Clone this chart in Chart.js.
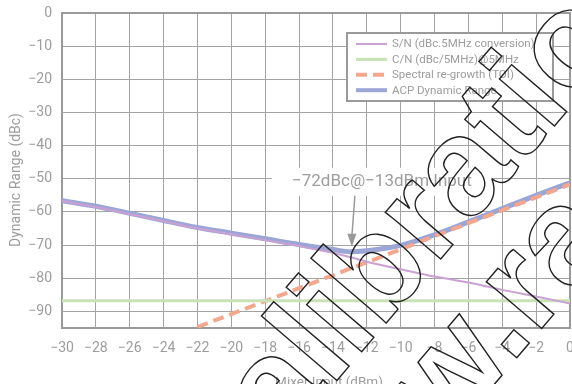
<!DOCTYPE html>
<html>
<head>
<meta charset="utf-8">
<script src="https://cdn.jsdelivr.net/npm/chart.js@4.4.0/dist/chart.umd.min.js"></script>
<style>
  html, body { margin: 0; padding: 0; background: #fff; overflow: hidden; }
  #wrap { width: 572px; height: 384px; overflow: hidden; }
</style>
</head>
<body>
<div id="wrap"><canvas id="mixer-canvas" width="572" height="392"></canvas></div>
<script>
// mixer input sweep (dBm) and the curves read against it (dBc)
var mixerInput = [-30, -28, -26, -24, -22, -20, -18, -16, -14, -13, -12, -10, -8, -6, -4, -2, 0];
var snConversion = [-56.7, -58.5, -60.6, -62.8, -64.9, -66.7, -68.5, -70.3, -72.3, -73.6, -75.0, -77.3, -79.5, -81.3, -83.5, -85.5, -87.6];
var cnAt5MHz = [-86.8, -86.8, -86.8, -86.8, -86.8, -86.8, -86.8, -86.8, -86.8, -86.8, -86.8, -86.8, -86.8, -86.8, -86.8, -86.8, -86.8];
var spectralRegrowth = [null, null, null, null, -94.7, -90.8, -86.9, -83.0, -79.1, -77.1, -75.2, -71.3, -67.3, -63.4, -59.5, -55.6, -51.7];
var acpDynamicRange = [-56.6, -58.3, -60.4, -62.6, -64.7, -66.4, -68.1, -69.8, -71.3, -72.0, -71.7, -70.1, -66.9, -63.0, -59.0, -55.0, -51.2];

var seriesNames = ['S/N (dBc.5MHz conversion)', 'C/N (dBc/5MHz)@5MHz', 'Spectral re-growth (TOI)', 'ACP Dynamic Range'];

var xTickValues = [-30, -28, -26, -24, -22, -20, -18, -16, -14, -12, -10, -8, -6, -4, -2, 0];
var yGridValues = [0, -5, -10, -15, -20, -25, -30, -35, -40, -45, -50, -55, -60, -65, -70, -75, -80, -85, -90, -95];
var yLabelValues = [0, -10, -20, -30, -40, -50, -60, -70, -80, -90];

var xTitle = 'Mixer Input (dBm)';
var yTitle = 'Dynamic Range (dBc)';
var stampLines = ['Calibration', 'www.ra'];

// the marked point on the ACP curve
var markInput = -13;
var markLevel = -72;
var markText = '\u221272dBc@\u221213dBm Input';

var textGrey = '#9d9d9d';
var gridGrey = '#a3a3a3';
var fontName = 'Roboto, "Liberation Sans", sans-serif';

function minusSign(v) {
  return v < 0 ? '\u2212' + Math.abs(v) : String(v);
}

function toPoints(values) {
  return mixerInput.map(function (x, i) {
    return { x: x, y: values[i] };
  });
}

// frame, annotation, legend, axis titles and the stamp are drawn by hand
var decorations = {
  id: 'decorations',
  beforeDatasetsDraw: function (chart) {
    var a = chart.chartArea;
    var ctx = chart.ctx;
    ctx.save();
    ctx.strokeStyle = '#9a9a9a';
    ctx.lineWidth = 2;
    ctx.strokeRect(a.left, a.top, a.right - a.left, a.bottom - a.top);
    ctx.restore();
  },
  afterDatasetsDraw: function (chart) {
    var ctx = chart.ctx;
    var xs = chart.scales.x;
    var ys = chart.scales.y;
    var px = xs.getPixelForValue(markInput);
    var py = ys.getPixelForValue(markLevel);

    ctx.save();
    // label with a white box behind it
    ctx.font = '17px ' + fontName;
    var cx = px + 32;
    var cy = py - 70;
    ctx.fillStyle = '#fff';
    ctx.fillRect(cx - 110, cy - 14, 220, 28);
    ctx.fillStyle = textGrey;
    ctx.textAlign = 'center';
    ctx.textBaseline = 'middle';
    ctx.fillText(markText, cx, cy);

    // arrow down to the curve
    var tipX = px + 2;
    var tipY = py - 5;
    ctx.strokeStyle = '#999';
    ctx.fillStyle = '#999';
    ctx.lineWidth = 1.5;
    ctx.beginPath();
    ctx.moveTo(px + 5, cy + 14);
    ctx.lineTo(tipX, tipY - 10);
    ctx.stroke();
    ctx.beginPath();
    ctx.moveTo(tipX, tipY);
    ctx.lineTo(tipX - 4.5, tipY - 13);
    ctx.lineTo(tipX + 4.5, tipY - 13);
    ctx.closePath();
    ctx.fill();

    // legend box
    var lx = 347, ly = 33, lw = 206, lh = 68;
    ctx.fillStyle = '#fff';
    ctx.fillRect(lx, ly, lw, lh);
    ctx.strokeStyle = '#9a9a9a';
    ctx.lineWidth = 2;
    ctx.strokeRect(lx, ly, lw, lh);
    ctx.font = '11.5px ' + fontName;
    ctx.textAlign = 'left';
    ctx.textBaseline = 'middle';
    chart.data.datasets.forEach(function (ds, i) {
      var ry = ly + 11 + i * 15.4;
      ctx.save();
      ctx.strokeStyle = ds.borderColor;
      ctx.lineWidth = Math.min(ds.borderWidth, 4);
      ctx.setLineDash(ds.borderDash || []);
      ctx.beginPath();
      ctx.moveTo(lx + 9, ry);
      ctx.lineTo(lx + 40, ry);
      ctx.stroke();
      ctx.restore();
      ctx.fillStyle = textGrey;
      ctx.fillText(ds.label, lx + 45, ry + 0.5);
    });

    // axis titles
    ctx.font = '13.5px ' + fontName;
    ctx.textAlign = 'center';
    ctx.fillText(xTitle, 329, 383);
    ctx.save();
    ctx.font = '14px ' + fontName;
    ctx.translate(16, 180);
    ctx.rotate(-Math.PI / 2);
    ctx.fillText(yTitle, 0, 0);
    ctx.restore();

    // outlined stamp running up across the plot
    ctx.translate(217, 521);
    ctx.rotate(-49.5 * Math.PI / 180);
    ctx.font = 'bold 137px "Liberation Sans", Arial, sans-serif';
    ctx.textAlign = 'left';
    ctx.textBaseline = 'alphabetic';
    ctx.strokeStyle = '#222';
    ctx.lineWidth = 1.4;
    ctx.strokeText(stampLines[0], 0, 0);
    ctx.strokeText(stampLines[1], -5, 122);
    ctx.restore();
  }
};

var config = {
  type: 'line',
  data: {
    datasets: [{
      label: seriesNames[0],
      data: toPoints(snConversion),
      borderColor: '#c9a1d2',
      borderWidth: 2,
      cubicInterpolationMode: 'monotone'
    }, {
      label: seriesNames[1],
      data: toPoints(cnAt5MHz),
      borderColor: '#c8e2b6',
      borderWidth: 3
    }, {
      label: seriesNames[2],
      data: toPoints(spectralRegrowth),
      borderColor: '#f4a78c',
      borderWidth: 4,
      borderDash: [11, 6]
    }, {
      label: seriesNames[3],
      data: toPoints(acpDynamicRange),
      borderColor: '#9ba5d6',
      borderWidth: 5,
      cubicInterpolationMode: 'monotone'
    }]
  },
  options: {
    responsive: false,
    animation: false,
    devicePixelRatio: 1,
    layout: { padding: { top: 13, right: 2, left: 0, bottom: 0 } },
    elements: { point: { radius: 0 } },
    plugins: { legend: { display: false }, tooltip: { enabled: false } },
    scales: {
      x: {
        type: 'linear',
        min: -30,
        max: 0,
        afterBuildTicks: function (scale) {
          scale.ticks = xTickValues.map(function (v) { return { value: v }; });
        },
        afterFit: function (scale) {
          scale.paddingLeft = 0;
          scale.paddingRight = 0;
          scale.height = 64;
        },
        grid: { color: gridGrey, lineWidth: 1, drawTicks: false },
        border: { display: false },
        ticks: {
          padding: 12,
          color: textGrey,
          font: { family: fontName, size: 14 },
          maxRotation: 0,
          callback: function (v) { return minusSign(v); }
        }
      },
      y: {
        type: 'linear',
        min: -95,
        max: 0,
        afterBuildTicks: function (scale) {
          scale.ticks = yGridValues.map(function (v) { return { value: v }; });
        },
        afterFit: function (scale) {
          scale.paddingTop = 0;
          scale.paddingBottom = 0;
          scale.width = 62;
        },
        grid: { color: gridGrey, lineWidth: 1, drawTicks: false },
        border: { display: false },
        ticks: {
          padding: 10,
          color: textGrey,
          font: { family: fontName, size: 14 },
          callback: function (v) {
            return yLabelValues.indexOf(v) >= 0 ? minusSign(v) : '';
          }
        }
      }
    }
  },
  plugins: [decorations]
};

var mixerChart = new Chart(document.querySelector('#mixer-canvas'), config);
</script>
</body>
</html>
